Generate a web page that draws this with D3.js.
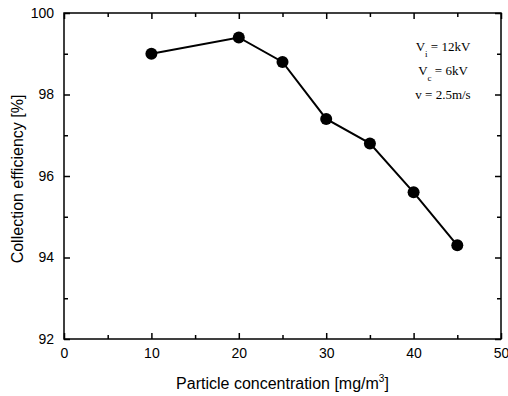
<!DOCTYPE html>
<html lang="en">

<head>
    <meta charset="utf-8">
    <title>Collection efficiency vs particle concentration</title>
    <style>
        body {
            margin: 0;
            background-color: white
        }

        .axis text {
            font: 14px "Liberation Sans", Arial, sans-serif;
            fill: #000;
        }

        .axis path,
        .axis line {
            fill: none;
            stroke: #000;
            stroke-width: 1.5px;
        }

        .line {
            fill: none;
            stroke: #000;
            stroke-width: 2px;
        }

        .dot {
            fill: #000;
        }

        .label {
            font: 16px "Liberation Sans", Arial, sans-serif;
        }

        .note {
            font: 13px "Liberation Serif", "Times New Roman", serif;
        }
    </style>
</head>

<body>
    <script src="https://d3js.org/d3.v7.min.js"></script>
    <svg width="508" height="396"></svg>

    <script>
        // data
        var concentration = [10, 20, 25, 30, 35, 40, 45];
        var efficiency = [99.0, 99.4, 98.8, 97.4, 96.8, 95.6, 94.3];
        var xTicks = [0, 10, 20, 30, 40, 50];
        var yTicks = [92, 94, 96, 98, 100];
        var xMinor = [5, 15, 25, 35, 45];
        var yMinor = [93, 95, 97, 99];
        var notes = [
            { main: "V", sub: "i", rest: " = 12kV" },
            { main: "V", sub: "c", rest: " = 6kV" },
            { main: "v", sub: "", rest: " = 2.5m/s" }
        ];

        var svg = d3.select("svg"),
            margin = { top: 13, right: 7, bottom: 57, left: 64 },
            width = +svg.attr("width") - margin.left - margin.right,
            height = +svg.attr("height") - margin.top - margin.bottom;

        var data = concentration.map(function(c, i) {
            return { c: c, e: efficiency[i] };
        });

        var x = d3.scaleLinear().domain([0, 50]).range([0, width]);
        var y = d3.scaleLinear().domain([92, 100]).range([height, 0]);

        var g = svg.append("g")
            .attr("transform", "translate(" + margin.left + "," + margin.top + ")");

        // frame
        g.append("rect")
            .attr("width", width)
            .attr("height", height)
            .attr("fill", "none")
            .attr("stroke", "#000")
            .attr("stroke-width", 1.5);

        function noDomain(s) { s.select(".domain").remove(); }

        // bottom axis, ticks pointing in
        g.append("g")
            .attr("class", "axis")
            .attr("transform", "translate(0," + height + ")")
            .call(d3.axisBottom(x).tickValues(xTicks).tickSizeInner(-6).tickSizeOuter(0).tickPadding(9))
            .call(noDomain);
        g.append("g")
            .attr("class", "axis")
            .attr("transform", "translate(0," + height + ")")
            .call(d3.axisBottom(x).tickValues(xMinor).tickSize(-4).tickFormat(""))
            .call(noDomain);

        // top axis mirror
        g.append("g")
            .attr("class", "axis")
            .call(d3.axisTop(x).tickValues(xTicks).tickSize(-6).tickFormat(""))
            .call(noDomain);
        g.append("g")
            .attr("class", "axis")
            .call(d3.axisTop(x).tickValues(xMinor).tickSize(-4).tickFormat(""))
            .call(noDomain);

        // left axis
        g.append("g")
            .attr("class", "axis")
            .call(d3.axisLeft(y).tickValues(yTicks).tickSizeInner(-6).tickSizeOuter(0).tickPadding(10))
            .call(noDomain);
        g.append("g")
            .attr("class", "axis")
            .call(d3.axisLeft(y).tickValues(yMinor).tickSize(-4).tickFormat(""))
            .call(noDomain);

        // right axis mirror
        g.append("g")
            .attr("class", "axis")
            .attr("transform", "translate(" + width + ",0)")
            .call(d3.axisRight(y).tickValues(yTicks).tickSize(-6).tickFormat(""))
            .call(noDomain);
        g.append("g")
            .attr("class", "axis")
            .attr("transform", "translate(" + width + ",0)")
            .call(d3.axisRight(y).tickValues(yMinor).tickSize(-4).tickFormat(""))
            .call(noDomain);

        // axis titles
        var xt = g.append("text")
            .attr("class", "label")
            .attr("x", width / 2)
            .attr("y", height + 50)
            .attr("text-anchor", "middle")
            .text("Particle concentration [mg/m");
        xt.append("tspan").attr("dy", -7).attr("font-size", "10px").text("3");
        xt.append("tspan").attr("dy", 7).text("]");

        g.append("text")
            .attr("class", "label")
            .attr("transform", "rotate(-90)")
            .attr("x", -height / 2 - 3)
            .attr("y", -margin.left + 23)
            .attr("text-anchor", "middle")
            .text("Collection efficiency [%]");

        // the line and dots
        var line = d3.line()
            .x(function(d) { return x(d.c); })
            .y(function(d) { return y(d.e); });

        g.append("path")
            .datum(data)
            .attr("class", "line")
            .attr("d", line);

        g.selectAll(".dot")
            .data(data)
            .enter()
            .append("circle")
            .attr("class", "dot")
            .attr("r", 6)
            .attr("cx", function(d) { return x(d.c); })
            .attr("cy", function(d) { return y(d.e); });

        // operating conditions
        notes.forEach(function(n, i) {
            var t = g.append("text")
                .attr("class", "note")
                .attr("x", 379)
                .attr("y", 38 + i * 24)
                .attr("text-anchor", "middle");
            t.append("tspan").text(n.main);
            if (n.sub) {
                t.append("tspan").attr("dy", 6).attr("font-size", "9px").text(n.sub);
                t.append("tspan").attr("dy", -6).text(n.rest);
            } else {
                t.append("tspan").text(n.rest);
            }
        });
    </script>
</body>

</html>
